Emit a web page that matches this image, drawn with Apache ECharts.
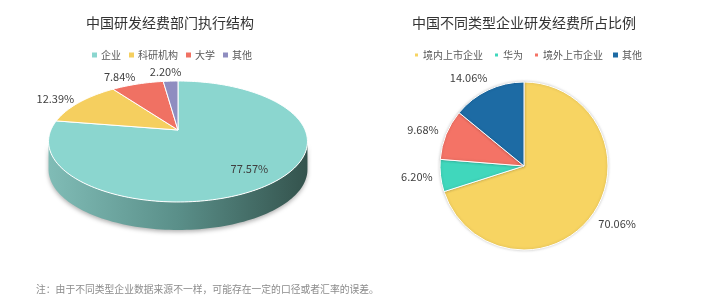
<!DOCTYPE html>
<html><head><meta charset="utf-8">
<script src="https://cdn.jsdelivr.net/npm/echarts@6/dist/echarts.min.js"></script>
<style>html,body{margin:0;padding:0;background:#fff}#c{width:707px;height:302px}</style>
</head><body><div id="c"></div>
<script>
// ---- data ----
const leftTitle = '中国研发经费部门执行结构';
const leftCategories = ['企业', '科研机构', '大学', '其他'];
const leftValues = [77.57, 12.39, 7.84, 2.20];

const rightTitle = '中国不同类型企业研发经费所占比例';
const rightCategories = ['境内上市企业', '华为', '境外上市企业', '其他'];
const rightValues = [70.06, 6.20, 9.68, 14.06];

const footnote = '注：由于不同类型企业数据来源不一样，可能存在一定的口径或者汇率的误差。';

// ---- styles ----
const FONT = '"Noto Sans CJK SC", "Microsoft YaHei", sans-serif';
const leftColors = ['#8bd6cf', '#f5cf5f', '#f07163', '#8f8dc0'];
const rightColors = ['#f7d462', '#40d7bc', '#f47366', '#1d6ba4'];
const labelColor = '#404040';
const labelSize = 11;

// 3D pie projection (perspective ellipse)
const P = { cx: 178, cy: 130, A: 127.1, B: 58.3, p: 0.19, depth: 28 };
function proj(t, k) {
  const u = k * Math.sin(t), v = k * Math.cos(t);
  const d = 1 + P.p * v;
  return [P.cx + P.A * u / d, P.cy - P.B * v / d];
}
const TWO_PI = Math.PI * 2;
const tL = Math.acos(-P.p), tR = TWO_PI - tL;
const leftTotal = leftValues.reduce((a, b) => a + b, 0);
const leftStarts = [];
(function () { let acc = 0; leftValues.forEach(v => { leftStarts.push(acc / leftTotal * TWO_PI); acc += v; }); })();

const measureCtx = document.createElement('canvas').getContext('2d');
function textWidth(s, size) { measureCtx.font = size + 'px ' + FONT; return measureCtx.measureText(s).width; }

function placeOutside(ax, ay, ox, oy, w, h) {
  let dx = ax - ox, dy = ay - oy;
  const len = Math.hypot(dx, dy) || 1; dx /= len; dy /= len;
  return [ax + Math.sign(dx) * (w / 2) * Math.min(1, 2 * Math.abs(dx)), ay + dy * h / 2];
}

function renderItem(params, api) {
  const i = params.dataIndex;
  const a0 = leftStarts[i];
  const a1 = a0 + leftValues[i] / leftTotal * TWO_PI;
  const children = [];
  const s0 = Math.max(a0, tL), s1 = Math.min(a1, tR);
  if (s1 > s0) {
    const pts = [], n = 100;
    for (let j = 0; j <= n; j++) pts.push(proj(s0 + (s1 - s0) * j / n, 1));
    for (let j = n; j >= 0; j--) { const q = proj(s0 + (s1 - s0) * j / n, 1); pts.push([q[0], q[1] + P.depth]); }
    children.push({
      type: 'polygon', z2: 1, shape: { points: pts },
      style: {
        fill: new echarts.graphic.LinearGradient(0, 0, 1, 0, [
          { offset: 0, color: '#80bcb6' }, { offset: 0.5, color: '#5a8f89' }, { offset: 1, color: '#34534d' }
        ]),
        shadowBlur: 4, shadowColor: 'rgba(0,0,0,0.3)', shadowOffsetY: 2
      }
    });
  }
  const top = [[P.cx, P.cy]];
  const n = Math.max(4, Math.ceil((a1 - a0) / TWO_PI * 240));
  for (let j = 0; j <= n; j++) top.push(proj(a0 + (a1 - a0) * j / n, 1));
  children.push({
    type: 'polygon', z2: 5, shape: { points: top },
    style: { fill: leftColors[i], stroke: '#ffffff', lineWidth: 1, lineJoin: 'round' }
  });
  const txt = leftValues[i].toFixed(2) + '%';
  const mid = (a0 + a1) / 2;
  let pos;
  if (leftValues[i] / leftTotal > 0.3) {
    pos = proj(mid, 0.77);
  } else {
    const a = proj(mid, 1.06);
    pos = placeOutside(a[0], a[1], P.cx, P.cy, textWidth(txt, labelSize), 14);
  }
  children.push({
    type: 'text', z2: 10,
    style: { text: txt, x: pos[0], y: pos[1], align: 'center', verticalAlign: 'middle',
             fill: labelColor, fontSize: labelSize, fontFamily: FONT }
  });
  return { type: 'group', children };
}

// right pie geometry
const R = { cx: 524, cy: 166, r: 84 };
const rightTotal = rightValues.reduce((a, b) => a + b, 0);
const rightMids = [];
(function () { let acc = 0; rightValues.forEach(v => { rightMids.push((acc + v / 2) / rightTotal * TWO_PI); acc += v; }); })();

const legendText = { fontSize: 10, color: '#595959', fontFamily: FONT, padding: [0, 0, 0, -1] };

const chart = echarts.init(document.getElementById('c'), null, { renderer: 'canvas' });
chart.setOption({
  animation: false,
  textStyle: { fontFamily: FONT },
  title: [
    { text: leftTitle, left: 165, top: 11, textAlign: 'center',
      textStyle: { fontSize: 14, fontWeight: 'normal', color: '#333333', fontFamily: FONT } },
    { text: rightTitle, left: 519, top: 11, textAlign: 'center',
      textStyle: { fontSize: 14, fontWeight: 'normal', color: '#333333', fontFamily: FONT } },
    { text: footnote, left: 31, top: 279,
      textStyle: { fontSize: 9.8, fontWeight: 'normal', color: '#8c8c8c', fontFamily: FONT } }
  ],
  legend: [
    { data: leftCategories.map((c, i) => ({ name: c, itemStyle: { color: leftColors[i] } })),
      left: 87, top: 45, width: 250, icon: 'rect', itemWidth: 5, itemHeight: 5, itemGap: 8, textStyle: legendText },
    { data: rightCategories.map((c, i) => ({ name: c, itemStyle: { color: rightColors[i] } })),
      left: 408, top: 45, width: 300, icon: 'rect', itemWidth: 5, itemHeight: 5, itemGap: 10, textStyle: legendText }
  ],
  series: [
    { // legend provider for the 3D pie (draws nothing visible)
      type: 'pie', name: 'leftLegend', radius: 0, center: [-100, -100], silent: true,
      label: { show: false }, labelLine: { show: false },
      data: leftCategories.map((c, i) => ({ name: c, value: leftValues[i], itemStyle: { color: leftColors[i] } }))
    },
    {
      type: 'custom', name: 'left3d', coordinateSystem: 'none', renderItem: renderItem,
      data: leftCategories.map((c, i) => ({ name: c, value: leftValues[i] }))
    },
    {
      type: 'pie', name: 'right', center: [R.cx, R.cy], radius: R.r, startAngle: 90, clockwise: true,
      avoidLabelOverlap: false,
      itemStyle: { borderColor: '#ffffff', borderWidth: 1, shadowBlur: 3, shadowColor: 'rgba(0,0,0,0.2)' },
      emphasis: { disabled: true },
      label: { show: true, position: 'outside', color: labelColor, fontSize: labelSize, fontFamily: FONT,
               formatter: p => p.value.toFixed(2) + '%' },
      labelLine: { show: false },
      labelLayout: function (params) {
        const i = params.dataIndex, m = rightMids[i];
        const ax = R.cx + (R.r + 8) * Math.sin(m), ay = R.cy - (R.r + 8) * Math.cos(m);
        const w = params.labelRect.width, h = params.labelRect.height;
        const c = placeOutside(ax, ay, R.cx, R.cy, w, h);
        return { x: c[0], y: c[1], align: 'center', verticalAlign: 'middle' };
      },
      data: rightCategories.map((c, i) => ({ name: c, value: rightValues[i], itemStyle: { color: rightColors[i] } }))
    }
  ]
});
</script>
</body></html>
